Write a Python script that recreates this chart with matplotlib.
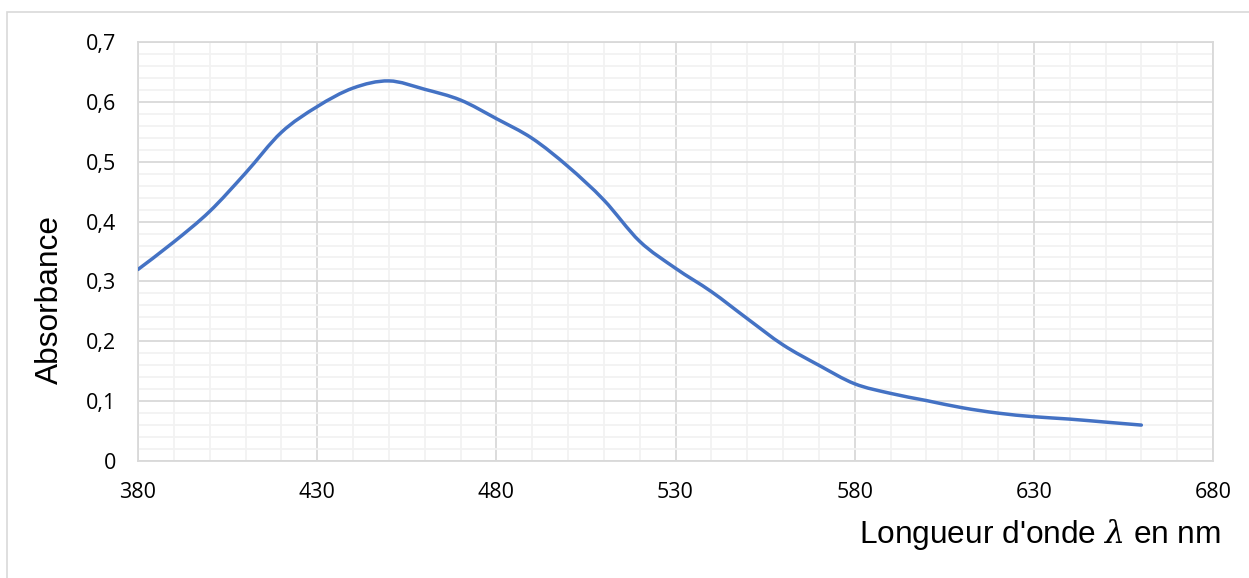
import matplotlib
matplotlib.use("Agg")
import matplotlib.pyplot as plt
from matplotlib.patches import Rectangle, PathPatch
from matplotlib.path import Path
from matplotlib.ticker import MultipleLocator, FuncFormatter

# données
longueur_onde = [380, 390, 400, 410, 420, 430, 440, 450, 460, 470, 480,
                 490, 500, 510, 520, 530, 540, 550, 560, 570, 580,
                 590, 600, 610, 620, 630, 640, 650, 660]
absorbance = [0.320, 0.366, 0.417, 0.481, 0.549, 0.592, 0.623, 0.635, 0.621, 0.603, 0.572,
              0.539, 0.492, 0.436, 0.367, 0.322, 0.283, 0.238, 0.194, 0.160, 0.129,
              0.113, 0.101, 0.089, 0.080, 0.074, 0.070, 0.065, 0.060]
x_ticks = [380, 430, 480, 530, 580, 630, 680]

W, H = 1249, 578
fig = plt.figure(figsize=(W / 100, H / 100), dpi=100)

# cadre du graphique (coupé à droite et en bas)
fig.patches.append(Rectangle((7 / W, -0.1), 1.2, 1 - 12 / H + 0.1, transform=fig.transFigure,
                             fill=False, edgecolor='#d9d9d9', linewidth=1.2, zorder=0))

left, right, top, bottom = 138, 1213, 42, 461
ax = fig.add_axes([left / W, 1 - bottom / H, (right - left) / W, (bottom - top) / H])

# courbe lissée façon Excel (Bézier type Catmull-Rom passant par les points)
pts = list(zip(longueur_onde, absorbance))
verts = [pts[0]]
codes = [Path.MOVETO]
n = len(pts)
for i in range(n - 1):
    p0 = pts[i - 1] if i > 0 else pts[i]
    p1, p2 = pts[i], pts[i + 1]
    p3 = pts[i + 2] if i + 2 < n else pts[i + 1]
    c1 = (p1[0] + (p2[0] - p0[0]) / 6, p1[1] + (p2[1] - p0[1]) / 6)
    c2 = (p2[0] - (p3[0] - p1[0]) / 6, p2[1] - (p3[1] - p1[1]) / 6)
    verts += [c1, c2, p2]
    codes += [Path.CURVE4] * 3
ax.add_patch(PathPatch(Path(verts, codes), facecolor='none', edgecolor='#4472C4',
                       linewidth=2.5, capstyle='round', joinstyle='round', zorder=3))

ax.set_xlim(380, 680)
ax.set_ylim(0, 0.7)
ax.set_xticks(x_ticks)
ax.xaxis.set_minor_locator(MultipleLocator(10))
ax.yaxis.set_major_locator(MultipleLocator(0.1))
ax.yaxis.set_minor_locator(MultipleLocator(0.02))
ax.yaxis.set_major_formatter(FuncFormatter(lambda v, p: '0' if abs(v) < 1e-9 else f'{v:.1f}'.replace('.', ',')))

ax.grid(which='major', color='#d9d9d9', linewidth=1.3)
ax.grid(which='minor', color='#f2f2f2', linewidth=1.3)
ax.set_axisbelow(True)
for s in ax.spines.values():
    s.set_color('#d9d9d9')
    s.set_linewidth(1.3)

ax.tick_params(which='both', length=0)
ax.tick_params(axis='y', pad=16, labelsize=15.5)
ax.tick_params(axis='x', pad=15, labelsize=15.5)
for lab in ax.get_xticklabels() + ax.get_yticklabels():
    lab.set_fontfamily('Open Sans')
    lab.set_color('#000000')

plt.rcParams['mathtext.fontset'] = 'dejavuserif'
fig.text(1221 / W, 1 - 535 / H, r"Longueur d'onde $\lambda$ en nm", ha='right', va='center',
         fontsize=22.8, family='Liberation Sans')
fig.text(50 / W, 1 - 299 / H, 'Absorbance', rotation=90, ha='center', va='center',
         fontsize=22.8, family='Liberation Sans')

fig.savefig('out.png', dpi=100, facecolor='white')
